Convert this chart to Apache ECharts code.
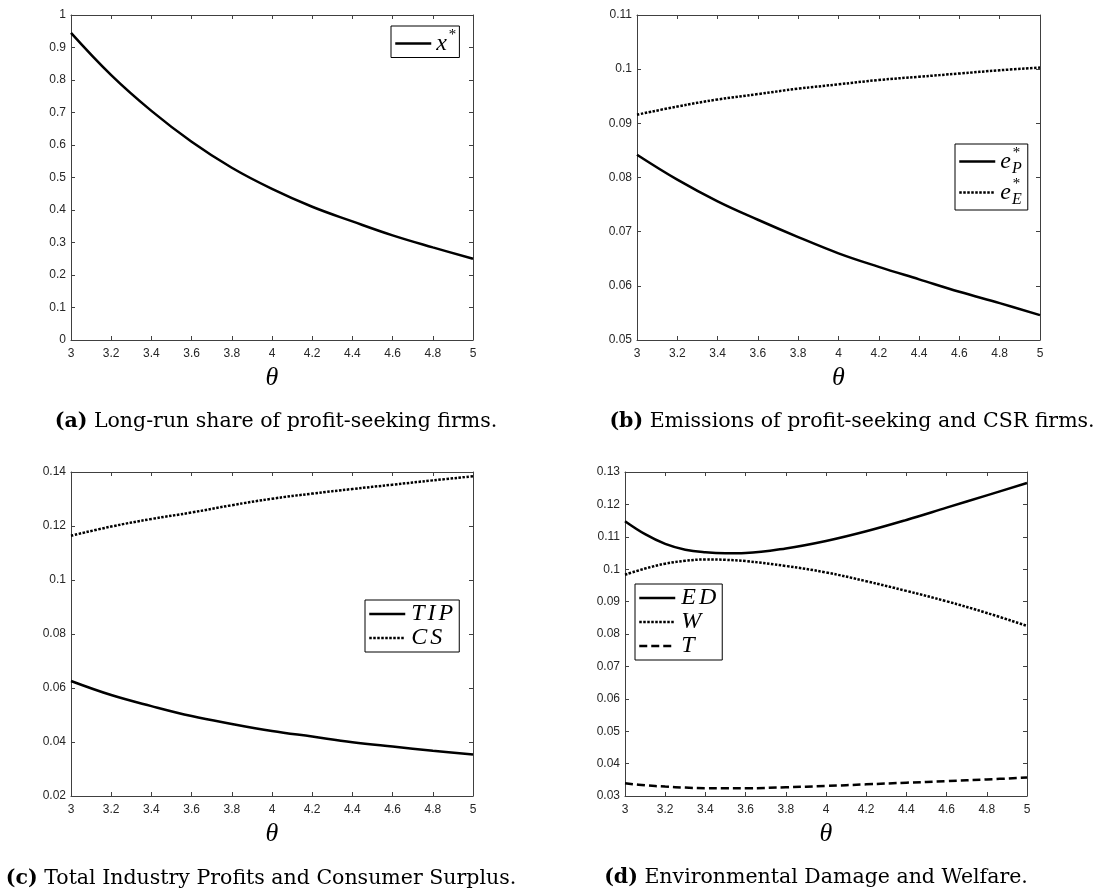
<!DOCTYPE html>
<html>
<head>
<meta charset="utf-8">
<script src="https://cdn.jsdelivr.net/npm/echarts@6/dist/echarts.min.js"></script>
<style>
html, body { margin: 0; padding: 0; background: #fff; }
#chart { width: 1097px; height: 892px; }
</style>
</head>
<body>
<div id="chart"></div>
<script>
// theta grid used by panels a-c
const theta = [3, 3.2, 3.4, 3.6, 3.8, 4, 4.2, 4.4, 4.6, 4.8, 5];
// (a) long-run share of profit-seeking firms
const xStar = [0.945, 0.815, 0.705, 0.61, 0.53, 0.465, 0.41, 0.365, 0.322, 0.285, 0.25];
// (b) emissions
const eP = [0.0842, 0.0796, 0.0756, 0.0722, 0.0690, 0.0660, 0.0635, 0.0612, 0.0589, 0.0568, 0.0546];
const eE = [0.0916, 0.0931, 0.0944, 0.0954, 0.0964, 0.0972, 0.0980, 0.0986, 0.0992, 0.0998, 0.1003];
// (c) profits and consumer surplus
const tip = [0.0626, 0.0574, 0.0533, 0.0496, 0.0467, 0.0441, 0.0420, 0.0399, 0.0383, 0.0368, 0.0354];
const cs = [0.1164, 0.1198, 0.1226, 0.1250, 0.1277, 0.1301, 0.1320, 0.1337, 0.1353, 0.1369, 0.1384];
// (d) finer theta near the minimum
const thetaD = [3, 3.1, 3.2, 3.3, 3.4, 3.5, 3.6, 3.8, 4, 4.2, 4.4, 4.6, 4.8, 5];
const ed = [0.1148, 0.1108, 0.1078, 0.1060, 0.1052, 0.1049, 0.1050, 0.1064, 0.1087, 0.1117, 0.1152, 0.1190, 0.1228, 0.1266];
const welfare = [0.0983, 0.1002, 0.1017, 0.1026, 0.1030, 0.1029, 0.1025, 0.1010, 0.0990, 0.0963, 0.0933, 0.0901, 0.0865, 0.0825];
const tax = [0.0339, 0.0333, 0.0329, 0.0326, 0.0324, 0.0324, 0.0324, 0.0327, 0.0331, 0.0336, 0.0341, 0.0346, 0.0351, 0.0357];

const yRanges = [[0, 1, 0.1], [0.05, 0.11, 0.01], [0.02, 0.14, 0.02], [0.03, 0.13, 0.01]];
const captions = [
    '{b|(a)} Long-run share of profit-seeking firms.',
    '{b|(b)} Emissions of profit-seeking and CSR firms.',
    '{b|(c)} Total Industry Profits and Consumer Surplus.',
    '{b|(d)} Environmental Damage and Welfare.'
];

const axisColor = '#404040';
const textColor = '#262626';
const serif = 'Liberation Serif';
const capFont = 'DejaVu Serif';

const grids = [
    { left: 71, top: 15, width: 402, height: 325 },
    { left: 637, top: 15, width: 403, height: 325 },
    { left: 71, top: 472, width: 402, height: 324 },
    { left: 625, top: 472, width: 402, height: 324 }
];

const tick = { show: true, inside: true, length: 4, lineStyle: { color: axisColor } };
const line = { show: true, onZero: false, lineStyle: { color: axisColor, width: 1 } };
const xAxis = [], yAxis = [];
grids.forEach((g, i) => {
    const base = { type: 'value', gridIndex: i, min: 3, max: 5, interval: 0.2, splitLine: { show: false }, axisLine: line, axisTick: tick };
    xAxis.push(Object.assign({}, base, {
        position: 'bottom',
        name: 'θ', nameLocation: 'middle', nameGap: 25,
        nameTextStyle: { fontFamily: serif, fontStyle: 'italic', fontSize: 26, color: '#000' },
        axisLabel: { color: textColor, fontSize: 12, fontFamily: 'Liberation Sans', margin: 8 }
    }));
    xAxis.push(Object.assign({}, base, { position: 'top', axisLabel: { show: false } }));
    const r = yRanges[i];
    const ybase = { type: 'value', gridIndex: i, min: r[0], max: r[1], interval: r[2], splitLine: { show: false }, axisLine: line, axisTick: tick };
    yAxis.push(Object.assign({}, ybase, {
        position: 'left',
        axisLabel: { color: textColor, fontSize: 12, fontFamily: 'Liberation Sans', margin: 5 }
    }));
    yAxis.push(Object.assign({}, ybase, { position: 'right', axisLabel: { show: false } }));
});

const pairs = (xs, ys) => xs.map((x, i) => [x, ys[i]]);
const solid = 'solid', dotted = [2.5, 1.5], dashed = [8, 4];
function mk(name, panel, xs, ys, type) {
    return {
        name: name, type: 'line', xAxisIndex: panel * 2, yAxisIndex: panel * 2,
        data: pairs(xs, ys), symbol: 'none', smooth: 0.4,
        lineStyle: { color: '#000', width: 2.5, type: type }
    };
}
const series = [
    mk('x*', 0, theta, xStar, solid),
    mk('eP', 1, theta, eP, solid),
    mk('eE', 1, theta, eE, dotted),
    mk('TIP', 2, theta, tip, solid),
    mk('CS', 2, theta, cs, dotted),
    mk('ED', 3, thetaD, ed, solid),
    mk('W', 3, thetaD, welfare, dotted),
    mk('T', 3, thetaD, tax, dashed)
];

// math-italic letters are set one by one to get the wider spacing
const mathWord = s => s.split('').map(c => '{v|' + c + '}').join('');
const labels = {
    'x*': '{b|x}{sup|*}',
    'eP': '{b|e}{supz|*}{sub|P}',
    'eE': '{b|e}{supz|*}{sub|E}',
    'TIP': mathWord('TIP'),
    'CS': mathWord('CS'),
    'ED': mathWord('ED'),
    'W': mathWord('W'),
    'T': mathWord('T')
};
const legendBase = {
    orient: 'vertical', selectedMode: false,
    padding: [2, 4, 2, 3], itemGap: 0, itemWidth: 36, itemHeight: 14,
    borderColor: '#000', borderWidth: 1, backgroundColor: '#fff', borderRadius: 0,
    lineStyle: { width: 2.5 },
    itemStyle: { opacity: 0 },
    formatter: n => labels[n],
    textStyle: {
        color: '#000', fontFamily: serif, fontStyle: 'italic', fontSize: 23,
        rich: {
            v: { fontFamily: serif, fontStyle: 'italic', fontSize: 24, lineHeight: 31, padding: [0, 2, 0, 1], color: '#000' },
            b: { fontFamily: serif, fontStyle: 'italic', fontSize: 24, lineHeight: 31, color: '#000' },
            sup: { fontFamily: serif, fontSize: 15, lineHeight: 16, verticalAlign: 'top', padding: [0, 0, 0, 1], color: '#000' },
            supz: { fontFamily: serif, fontSize: 15, lineHeight: 16, verticalAlign: 'top', width: 0.1, padding: [0, 0, 0, 1], color: '#000' },
            sub: { fontFamily: serif, fontStyle: 'italic', fontSize: 16, lineHeight: 16, verticalAlign: 'bottom', color: '#000' }
        }
    }
};
const legend = [
    Object.assign({}, legendBase, { left: 391, top: 26, data: ['x*'] }),
    Object.assign({}, legendBase, { left: 955, top: 144, padding: [2, 6, 2, 3], data: ['eP', 'eE'] }),
    Object.assign({}, legendBase, { left: 365, top: 600, data: ['TIP', 'CS'] }),
    Object.assign({}, legendBase, { left: 635, top: 584, data: ['ED', 'W', 'T'] })
];

const capPos = [[276, 422], [852, 422], [261, 879], [816, 878]];
const graphic = captions.map((c, i) => ({
    type: 'text', x: capPos[i][0], y: capPos[i][1],
    style: {
        text: c, align: 'center', verticalAlign: 'middle',
        fontFamily: capFont, fontSize: 20.5, fill: '#000',
        rich: { b: { fontFamily: capFont, fontWeight: 'bold', fontSize: 20.5 } }
    }
}));

const option = {
    animation: false,
    backgroundColor: '#fff',
    grid: grids,
    xAxis: xAxis,
    yAxis: yAxis,
    legend: legend,
    series: series,
    graphic: graphic
};
const myChart = echarts.init(document.getElementById('chart'));
myChart.setOption(option);
</script>
</body>
</html>
